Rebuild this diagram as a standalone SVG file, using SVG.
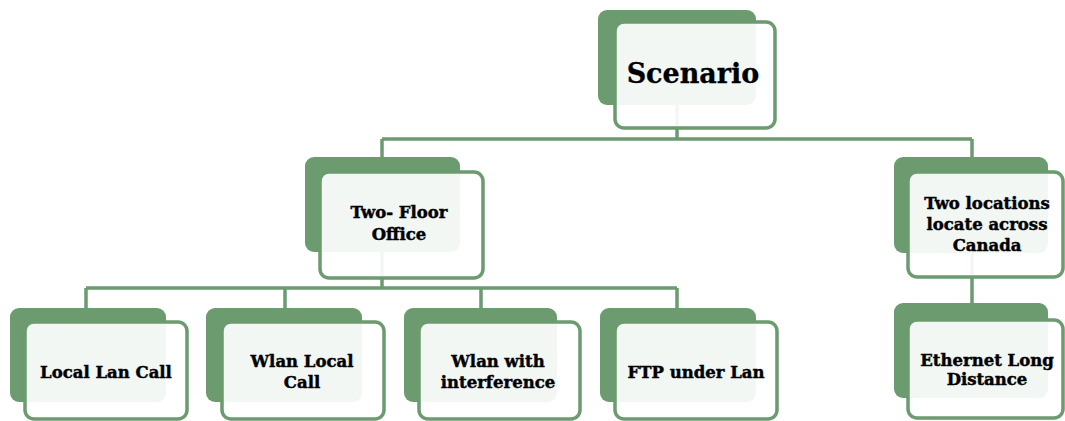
<svg xmlns="http://www.w3.org/2000/svg" width="1065" height="421" viewBox="0 0 1065 421">
<style>
.back{fill:#6b9b6f;}
.front{fill:#ffffff;fill-opacity:0.92;stroke:#6b9b6f;stroke-width:3.5;}
.conn{fill:none;stroke:#6b9b6f;stroke-width:3.5;}
.t{font-family:"DejaVu Serif","Liberation Serif",serif;font-weight:bold;fill:#000;stroke:#000;stroke-width:0.45;text-anchor:middle;font-size:16.5px;}
.big{font-size:27px;stroke-width:0.3;}
</style>
<rect width="1065" height="421" fill="#ffffff"/>
<g id="connectors">
<path class="conn" d="M677,105 V139 M382,139 H972 M382,139 V157 M972,139 V157"/>
<path class="conn" d="M382,252 V288 M86,288 H677 M86,288 V308 M285,288 V308 M481,288 V308 M677,288 V308"/>
<path class="conn" d="M972,253 V303"/>
</g>
<g id="scenario">
<rect class="back" x="598" y="10" width="158" height="95" rx="9"/>
<rect class="front" x="615" y="22" width="160" height="106" rx="9"/>
<text class="t big" x="693" y="83">Scenario</text>
</g>
<g id="two-floor-office">
<rect class="back" x="305" y="157" width="155" height="95" rx="9"/>
<rect class="front" x="320" y="172" width="163" height="106" rx="9"/>
<text class="t" x="399" y="218">Two- Floor</text>
<text class="t" x="399" y="240">Office</text>
</g>
<g id="two-locations">
<rect class="back" x="894" y="157" width="154" height="96" rx="9"/>
<rect class="front" x="908" y="172" width="155" height="105" rx="9"/>
<text class="t" x="987" y="209">Two locations</text>
<text class="t" x="987" y="230">locate across</text>
<text class="t" x="987" y="251">Canada</text>
</g>
<g id="ethernet-long-distance">
<rect class="back" x="894" y="303" width="154" height="95" rx="9"/>
<rect class="front" x="908" y="320" width="155" height="98" rx="9"/>
<text class="t" x="987" y="366">Ethernet Long</text>
<text class="t" x="987" y="385">Distance</text>
</g>
<g id="local-lan-call">
<rect class="back" x="10" y="308" width="156" height="94" rx="9"/>
<rect class="front" x="25" y="322" width="162" height="97" rx="9"/>
<text class="t" x="106" y="378">Local Lan Call</text>
</g>
<g id="wlan-local-call">
<rect class="back" x="206" y="308" width="156" height="94" rx="9"/>
<rect class="front" x="222" y="322" width="162" height="97" rx="9"/>
<text class="t" x="302" y="367">Wlan Local</text>
<text class="t" x="302" y="388">Call</text>
</g>
<g id="wlan-with-interference">
<rect class="back" x="404" y="308" width="153" height="94" rx="9"/>
<rect class="front" x="419" y="322" width="161" height="97" rx="9"/>
<text class="t" x="498" y="367">Wlan with</text>
<text class="t" x="498" y="388">interference</text>
</g>
<g id="ftp-under-lan">
<rect class="back" x="600" y="308" width="156" height="94" rx="9"/>
<rect class="front" x="615" y="322" width="162" height="97" rx="9"/>
<text class="t" x="696" y="378">FTP under Lan</text>
</g>
</svg>
